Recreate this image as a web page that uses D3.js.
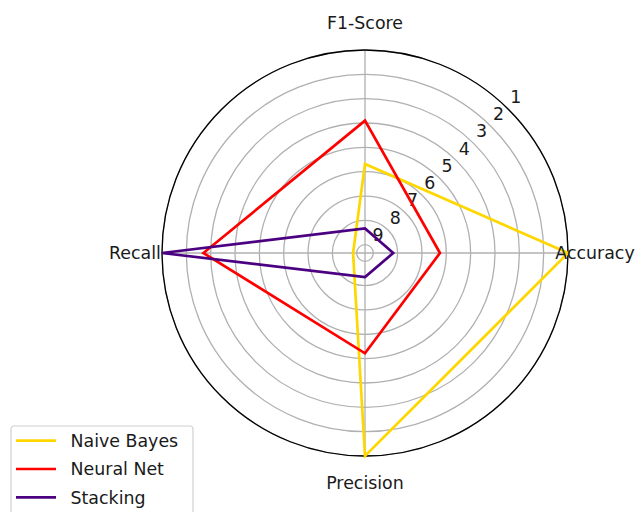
<!DOCTYPE html>
<html>
<head>
<meta charset="utf-8">
<script src="https://cdn.jsdelivr.net/npm/d3@7/dist/d3.min.js"></script>
<style>
  html, body { margin: 0; padding: 0; background: #fff; }
  svg { display: block; }
  text { font-family: "DejaVu Sans", sans-serif; fill: #1a1a1a; }
</style>
</head>
<body>
<svg id="chart" width="637" height="512"></svg>
<script>
// Metric axes, counter-clockwise from the east
const categories = ["Accuracy", "F1-Score", "Recall", "Precision"];

// Rank per metric for each model (1 = best, drawn at the rim)
const naiveBayes = [1.0, 5.68, 8.85, 1.0];
const neuralNet  = [6.26, 3.90, 2.70, 5.22];
const stacking   = [8.18, 8.33, 1.0, 8.35];

const seriesNames  = ["Naive Bayes", "Neural Net", "Stacking"];
const seriesColors = ["#FFD700", "#FF0000", "#4B0082"];
const rTicks = [1, 2, 3, 4, 5, 6, 7, 8, 9];

const series = [naiveBayes, neuralNet, stacking].map((values, i) => ({
  name: seriesNames[i], color: seriesColors[i], values
}));

const svg = d3.select("#chart");
const cx = 365, cy = 253, R = 203;
const fontSize = 17.4;

const r = d3.scaleLinear().domain([9.34, 1]).range([0, R]);
const angle = d3.scaleLinear().domain([0, categories.length]).range([0, 2 * Math.PI]);

const px = (a, rad) => cx + rad * Math.cos(a);
const py = (a, rad) => cy - rad * Math.sin(a);

const g = svg.append("g");

// concentric grid rings
g.selectAll("circle.grid")
  .data(rTicks)
  .join("circle")
  .attr("class", "grid")
  .attr("cx", cx).attr("cy", cy)
  .attr("r", d => r(d))
  .attr("fill", "none")
  .attr("stroke", "#b0b0b0")
  .attr("stroke-width", 1.3);

// spokes
g.selectAll("line.spoke")
  .data(categories)
  .join("line")
  .attr("class", "spoke")
  .attr("x1", cx).attr("y1", cy)
  .attr("x2", (d, i) => px(angle(i), R))
  .attr("y2", (d, i) => py(angle(i), R))
  .attr("stroke", "#b0b0b0")
  .attr("stroke-width", 1.3);

// outer frame
g.append("circle")
  .attr("cx", cx).attr("cy", cy).attr("r", R)
  .attr("fill", "none")
  .attr("stroke", "#000")
  .attr("stroke-width", 1.3);

// radial tick labels along the 45° direction
const la = Math.PI / 4;
g.selectAll("text.rtick")
  .data(rTicks)
  .join("text")
  .attr("class", "rtick")
  .attr("x", d => px(la, r(d)) + 7.3)
  .attr("y", d => py(la, r(d)) - 6.4)
  .attr("text-anchor", "middle")
  .attr("font-size", fontSize)
  .text(d => d);

// series polygons
const line = d3.lineRadial()
  .angle((d, i) => Math.PI / 2 - angle(i))
  .radius(d => r(d))
  .curve(d3.curveLinearClosed);

g.selectAll("path.series")
  .data(series)
  .join("path")
  .attr("class", "series")
  .attr("transform", `translate(${cx},${cy})`)
  .attr("d", d => line(d.values))
  .attr("fill", "none")
  .attr("stroke", d => d.color)
  .attr("stroke-width", 2.7)
  .attr("stroke-linejoin", "miter");

// category labels
const labR = 230;
g.selectAll("text.cat")
  .data(categories)
  .join("text")
  .attr("class", "cat")
  .attr("x", (d, i) => px(angle(i), labR))
  .attr("y", (d, i) => py(angle(i), labR))
  .attr("dy", "0.36em")
  .attr("text-anchor", "middle")
  .attr("font-size", fontSize)
  .text(d => d);

// legend
const leg = svg.append("g").attr("transform", "translate(11,426)");
leg.append("rect")
  .attr("x", 0).attr("y", 0)
  .attr("width", 182).attr("height", 100)
  .attr("rx", 3)
  .attr("fill", "#fff").attr("fill-opacity", 0.8)
  .attr("stroke", "#d0d0d0").attr("stroke-width", 1.2);

const rows = leg.selectAll("g.row")
  .data(series)
  .join("g")
  .attr("class", "row")
  .attr("transform", (d, i) => `translate(0,${14.7 + i * 28.3})`);
rows.append("line")
  .attr("x1", 5).attr("x2", 45)
  .attr("y1", 0).attr("y2", 0)
  .attr("stroke", d => d.color)
  .attr("stroke-width", 2.7);
rows.append("text")
  .attr("x", 59.5).attr("y", 0)
  .attr("dy", "0.36em")
  .attr("font-size", fontSize)
  .text(d => d.name);
</script>
</body>
</html>
